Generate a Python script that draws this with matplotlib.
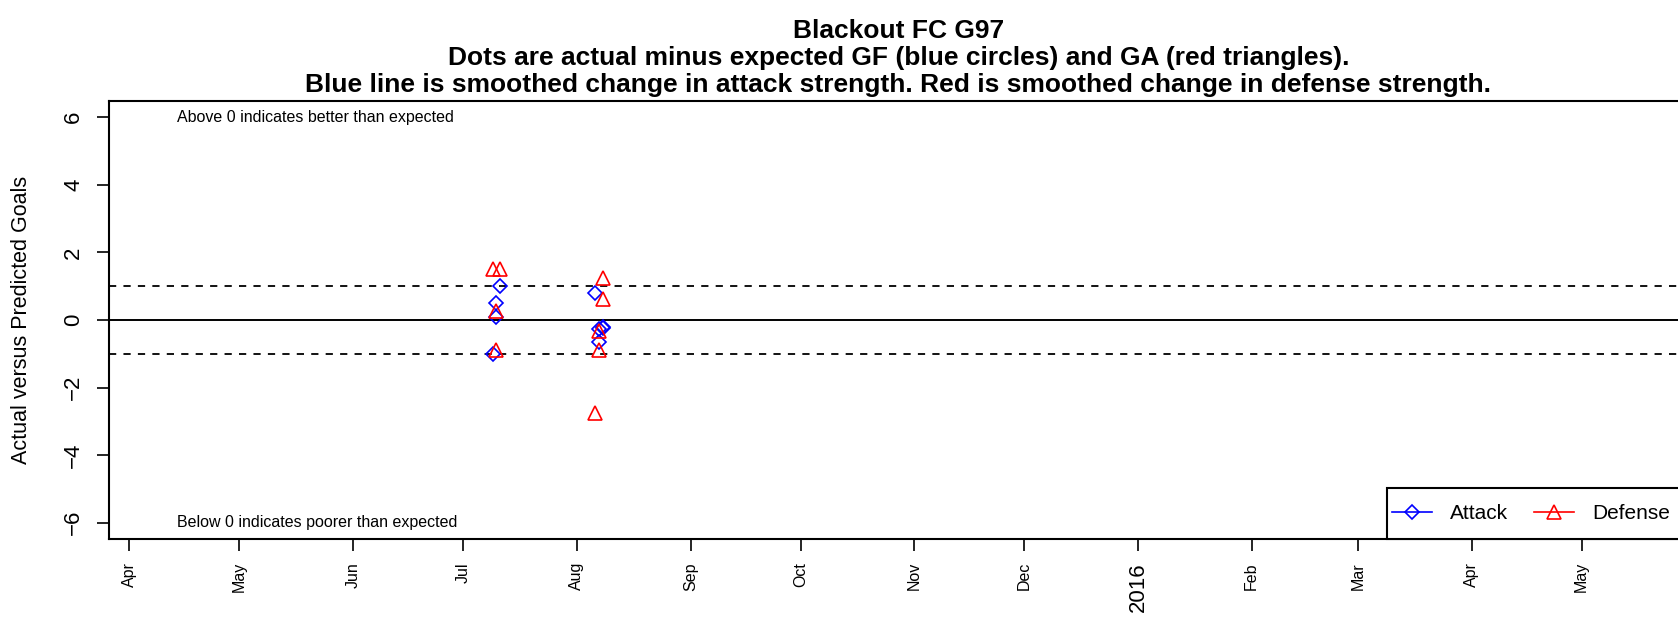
import matplotlib
matplotlib.use('Agg')
import matplotlib.pyplot as plt
from matplotlib.lines import Line2D
from matplotlib.patches import Rectangle
import pandas as pd

plt.rcParams['font.family'] = ['Liberation Sans', 'DejaVu Sans']

# games: date, actual minus expected goals for (attack) and against (defense)
game_dates = pd.to_datetime(['2015-07-09', '2015-07-10', '2015-07-10', '2015-07-11',
                             '2015-08-06', '2015-08-07', '2015-08-07', '2015-08-08', '2015-08-08'])
attack = [-1.0, 0.5, 0.1, 1.0, 0.8, -0.28, -0.65, -0.22, -0.25]
defense = [1.5, 0.28, -0.88, 1.5, -2.75, -0.33, -0.9, 1.23, 0.62]

month_ticks = pd.date_range('2015-04-01', '2016-05-01', freq='MS')
month_labels = [('2016' if d.month == 1 else d.strftime('%b')) for d in month_ticks]

fig = plt.figure(figsize=(16.78, 6.18), dpi=100)
# plot region runs a little past the right edge of the image, as in the original
ax = fig.add_axes([109/1678, 79/618, (1688-109)/1678, (539-101)/618])

ax.axhline(0, color='black', lw=1.4)
ax.axhline(1, color='black', lw=1.3, ls=(0, (4, 4)))
ax.axhline(-1, color='black', lw=1.3, ls=(0, (4, 4)))

ax.plot(game_dates, attack, ls='none', marker='D', ms=6.8, mfc='none', mec='blue', mew=1.2)
ax.plot(game_dates, defense, ls='none', marker='^', ms=9.5, mfc='none', mec='red', mew=1.2)

ax.set_ylim(-6.48, 6.48)
ax.set_xlim(pd.Timestamp('2015-03-26 10:00'), pd.Timestamp('2016-05-30'))

ax.text(pd.Timestamp('2015-04-14'), 6, 'Above 0 indicates better than expected',
        fontsize=11.5, va='center', ha='left')
ax.text(pd.Timestamp('2015-04-14'), -6, 'Below 0 indicates poorer than expected',
        fontsize=11.5, va='center', ha='left')

ax.set_yticks([-6, -4, -2, 0, 2, 4, 6])
ax.set_yticklabels(['\u22126', '\u22124', '\u22122', '0', '2', '4', '6'], rotation=90, va='center')
ax.tick_params(axis='y', labelsize=16, length=9, width=1.2, pad=9)
ax.set_ylabel('Actual versus Predicted Goals', fontsize=15.5, labelpad=22)

ax.set_xticks(month_ticks)
ax.set_xticklabels(month_labels, rotation=90, va='top')
ax.tick_params(axis='x', labelsize=11.5, length=8.6, width=1.2, pad=8)
for lab in ax.get_xticklabels():
    if lab.get_text() == '2016':
        lab.set_fontsize(16)

for s in ax.spines.values():
    s.set_linewidth(1.5)

fig.text((109+1688)/2/1678, 1-19/618, 'Blackout FC G97\n'
         'Dots are actual minus expected GF (blue circles) and GA (red triangles).\n'
         'Blue line is smoothed change in attack strength. Red is smoothed change in defense strength.',
         ha='center', va='top', fontsize=19, fontweight='bold', linespacing=1.15)

# legend box sits in the bottom right corner and runs off the image like the plot region
fig.add_artist(Rectangle((1387/1678, 79/618), 320/1678, 51/618, transform=fig.transFigure,
                         facecolor='white', edgecolor='black', lw=1.5, zorder=5))
handles = [Line2D([], [], color='blue', marker='D', ms=6.8, mfc='none', mew=1.2, lw=1.2),
           Line2D([], [], color='red', marker='^', ms=9.5, mfc='none', mew=1.2, lw=1.2)]
leg = fig.legend(handles, ['Attack', 'Defense'], ncol=2, fontsize=15,
                 loc='center left', bbox_to_anchor=(1387/1678, (618-513.5)/618),
                 frameon=False, handlelength=1.92, handletextpad=0.87,
                 columnspacing=1.25, borderpad=0.24, borderaxespad=0)
leg.set_zorder(6)

fig.savefig('out.png', dpi=100)
